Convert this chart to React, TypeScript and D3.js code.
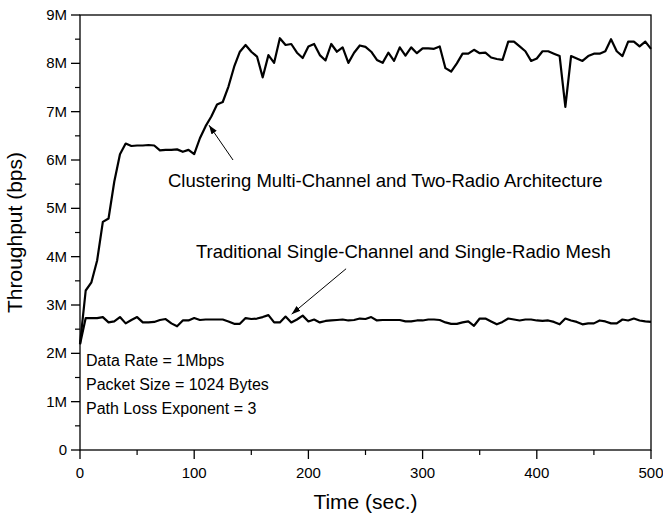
import * as d3 from "d3"
import React from "react"

// sample times (sec.)
const times = d3.range(0, 501, 5)

// throughput in Mbps, one value per sample time
const clustering = [
  2.19, 3.3, 3.47, 3.92, 4.72, 4.79, 5.55, 6.12, 6.34, 6.29,
  6.3, 6.3, 6.31, 6.3, 6.2, 6.21, 6.21, 6.22, 6.17, 6.21,
  6.12, 6.45, 6.7, 6.9, 7.15, 7.2, 7.52, 7.93, 8.24, 8.38,
  8.24, 8.14, 7.71, 8.17, 8.01, 8.52, 8.38, 8.4, 8.22, 8.11,
  8.35, 8.4, 8.17, 8.06, 8.4, 8.24, 8.33, 8.01, 8.22, 8.37,
  8.34, 8.24, 8.07, 8.01, 8.22, 8.05, 8.33, 8.16, 8.33, 8.21,
  8.31, 8.31, 8.3, 8.35, 7.9, 7.83, 8.0, 8.2, 8.2, 8.28,
  8.21, 8.22, 8.12, 8.09, 8.07, 8.45, 8.45, 8.35, 8.25, 8.05,
  8.1, 8.25, 8.25, 8.2, 8.15, 7.1, 8.15, 8.1, 8.05, 8.15,
  8.2, 8.2, 8.25, 8.5, 8.25, 8.15, 8.45, 8.45, 8.35, 8.45,
  8.3
]

const traditional = [
  2.19, 2.73, 2.73, 2.73, 2.75, 2.64, 2.66, 2.75, 2.62, 2.69,
  2.75, 2.64, 2.64, 2.65, 2.69, 2.71, 2.62, 2.56, 2.68, 2.68,
  2.73, 2.69, 2.7, 2.7, 2.7, 2.7, 2.66, 2.61, 2.61, 2.73,
  2.71, 2.72, 2.75, 2.79, 2.64, 2.64, 2.76, 2.64, 2.7, 2.78,
  2.66, 2.7, 2.64, 2.67, 2.68, 2.69, 2.7, 2.68, 2.69, 2.72,
  2.71, 2.75, 2.68, 2.69, 2.69, 2.69, 2.69, 2.66, 2.66, 2.68,
  2.68, 2.7, 2.7, 2.69, 2.64, 2.61, 2.61, 2.64, 2.66, 2.57,
  2.72, 2.72, 2.66, 2.6, 2.65, 2.72, 2.7, 2.68, 2.7, 2.7,
  2.68, 2.67, 2.68, 2.65, 2.6, 2.72, 2.68, 2.65, 2.6, 2.62,
  2.62, 2.68, 2.66, 2.62, 2.62, 2.7, 2.68, 2.72, 2.68, 2.66,
  2.65
]

const xTicks = [0, 100, 200, 300, 400, 500]
const yTicks = [0, 1, 2, 3, 4, 5, 6, 7, 8, 9]
const notes = ["Data Rate = 1Mbps", "Packet Size = 1024 Bytes", "Path Loss Exponent = 3"]

const W = 663, H = 516
const left = 80, right = 651, top = 15, bottom = 450
const font = "Liberation Sans, Arial, sans-serif"

export default function App() {
  const x = d3.scaleLinear().domain([0, 500]).range([left, right])
  const y = d3.scaleLinear().domain([0, 9]).range([bottom, top])

  const line = d3.line<number>()
    .x((_, i) => x(times[i]))
    .y(d => y(d))

  const xMinor = d3.range(50, 500, 100)
  const yMinor = d3.range(0.5, 9, 1)

  return (
    <svg width={W} height={H} style={{ position: "absolute", left: 0, top: 0 }} fontFamily={font}>
      <defs>
        <marker id="arr" viewBox="0 0 10 10" refX="10" refY="5" markerWidth="9" markerHeight="9" markerUnits="userSpaceOnUse" orient="auto">
          <path d="M0,1.5 L10,5 L0,8.5 Z" fill="#000" />
        </marker>
      </defs>
      <rect x={left} y={top} width={right - left} height={bottom - top} fill="none" stroke="#000" strokeWidth={1.3} />

      {xTicks.map(t => (
        <g key={"x" + t}>
          <line x1={x(t)} x2={x(t)} y1={bottom} y2={bottom + 9} stroke="#000" strokeWidth={1.3} />
          <text x={x(t)} y={bottom + 28} fontSize={15} textAnchor="middle">{t}</text>
        </g>
      ))}
      {xMinor.map(t => (
        <line key={"xm" + t} x1={x(t)} x2={x(t)} y1={bottom} y2={bottom + 5} stroke="#000" strokeWidth={1.2} />
      ))}
      {yTicks.map(v => (
        <g key={"y" + v}>
          <line x1={left - 9} x2={left} y1={y(v)} y2={y(v)} stroke="#000" strokeWidth={1.3} />
          <text x={left - 13} y={y(v) + 5} fontSize={15} textAnchor="end">{v === 0 ? "0" : v + "M"}</text>
        </g>
      ))}
      {yMinor.map(v => (
        <line key={"ym" + v} x1={left - 5} x2={left} y1={y(v)} y2={y(v)} stroke="#000" strokeWidth={1.2} />
      ))}

      <path d={line(traditional) || ""} fill="none" stroke="#000" strokeWidth={2.2} strokeLinejoin="round" />
      <path d={line(clustering) || ""} fill="none" stroke="#000" strokeWidth={2.2} strokeLinejoin="round" />

      <line x1={x(134)} y1={y(6.0)} x2={x(113)} y2={y(6.72)} stroke="#000" strokeWidth={1} markerEnd="url(#arr)" />
      <text x={168} y={187} fontSize={18.5}>Clustering Multi-Channel and Two-Radio Architecture</text>

      <line x1={x(233)} y1={y(3.75)} x2={x(185.3)} y2={y(2.81)} stroke="#000" strokeWidth={1} markerEnd="url(#arr)" />
      <text x={196} y={258} fontSize={18.5}>Traditional Single-Channel and Single-Radio Mesh</text>

      {notes.map((n, i) => (
        <text key={n} x={86} y={366 + i * 24.2} fontSize={16}>{n}</text>
      ))}

      <text x={(left + right) / 2} y={509} fontSize={21} textAnchor="middle">Time (sec.)</text>
      <text transform={`translate(22,${(top + bottom) / 2}) rotate(-90)`} fontSize={21} textAnchor="middle">Throughput (bps)</text>
    </svg>
  )
}
